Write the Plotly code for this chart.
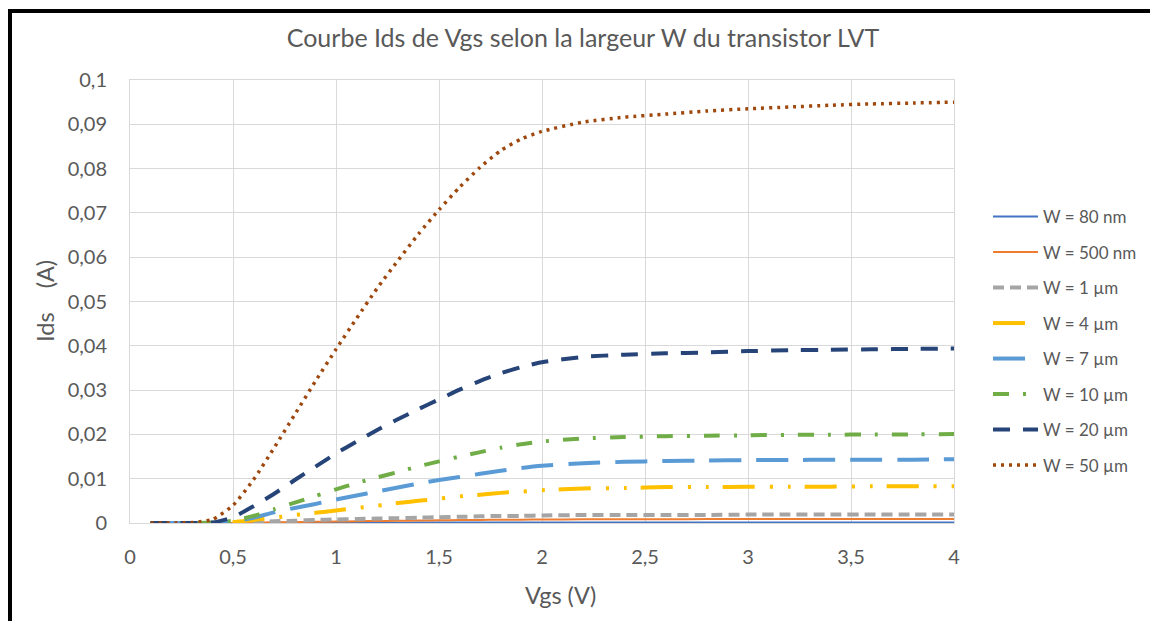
import plotly.graph_objects as go

vgs = [0.1, 0.2, 0.3, 0.4, 0.5, 0.6, 0.7, 0.8, 0.9, 1.0,
       1.1, 1.2, 1.3, 1.4, 1.5, 1.6, 1.7, 1.8, 1.9, 2.0,
       2.2, 2.4, 2.6, 2.8, 3.0, 3.2, 3.4, 3.6, 3.8, 4.0]

ids_80nm = [0, 0, 0, 0, 0, 0.00002, 0.00003, 0.00004, 0.00005, 0.00006,
            0.00007, 0.00008, 0.00008, 0.00009, 0.00009, 0.0001, 0.0001, 0.0001, 0.0001, 0.0001,
            0.0001, 0.0001, 0.0001, 0.0001, 0.0001, 0.0001, 0.0001, 0.0001, 0.0001, 0.0001]
ids_500nm = [0, 0, 0, 0, 0.00002, 0.0001, 0.00015, 0.0002, 0.00027, 0.00033,
             0.0004, 0.00045, 0.0005, 0.00055, 0.0006, 0.00065, 0.0007, 0.00073, 0.00076, 0.0008,
             0.00083, 0.00085, 0.00087, 0.00088, 0.00089, 0.0009, 0.0009, 0.0009, 0.0009, 0.0009]
ids_1um = [0, 0, 0, 0, 0.0001, 0.0002, 0.0004, 0.0005, 0.0007, 0.0008,
           0.0009, 0.001, 0.0011, 0.0012, 0.0013, 0.0014, 0.0015, 0.0016, 0.0016, 0.0017,
           0.0018, 0.0018, 0.0018, 0.0018, 0.0019, 0.0019, 0.0019, 0.0019, 0.0019, 0.0019]
ids_4um = [0, 0, 0, 0, 0.0002, 0.0007, 0.0012, 0.0018, 0.0023, 0.0028,
           0.0034, 0.0039, 0.0045, 0.005, 0.0055, 0.006, 0.0064, 0.0068, 0.0071, 0.0074,
           0.0078, 0.0079, 0.0081, 0.0081, 0.0082, 0.0082, 0.0082, 0.0083, 0.0083, 0.0083]
ids_7um = [0, 0, 0, 0, 0.0003, 0.0012, 0.0024, 0.0034, 0.0043, 0.0053,
           0.0062, 0.0071, 0.008, 0.0089, 0.0097, 0.0104, 0.0111, 0.0118, 0.0124, 0.0129,
           0.0135, 0.0138, 0.014, 0.0141, 0.0142, 0.0142, 0.0143, 0.0143, 0.0143, 0.0144]
ids_10um = [0, 0, 0, 0.0001, 0.0005, 0.0016, 0.0031, 0.0046, 0.0061, 0.0076,
            0.009, 0.0103, 0.0115, 0.0128, 0.0139, 0.015, 0.016, 0.017, 0.0178, 0.0184,
            0.0191, 0.0194, 0.0196, 0.0197, 0.0198, 0.0199, 0.0199, 0.02, 0.02, 0.0201]
ids_20um = [0, 0, 0, 0.0001, 0.0013, 0.0038, 0.0066, 0.0097, 0.0127, 0.0157,
            0.0184, 0.021, 0.0234, 0.0257, 0.0279, 0.0301, 0.0321, 0.0338, 0.0352, 0.0363,
            0.0375, 0.038, 0.0383, 0.0385, 0.0388, 0.039, 0.0391, 0.0392, 0.0393, 0.0394]
ids_50um = [0, 0, 0.0001, 0.0008, 0.004, 0.0098, 0.017, 0.0245, 0.032, 0.0392,
            0.0462, 0.053, 0.0592, 0.0652, 0.0707, 0.0758, 0.0803, 0.0841, 0.0867, 0.0884,
            0.0905, 0.0916, 0.0923, 0.093, 0.0935, 0.0939, 0.0943, 0.0946, 0.0948, 0.095]

names = ["W = 80 nm", "W = 500 nm", "W = 1 µm", "W = 4 µm",
         "W = 7 µm", "W = 10 µm", "W = 20 µm", "W = 50 µm"]
series = [ids_80nm, ids_500nm, ids_1um, ids_4um, ids_7um, ids_10um, ids_20um, ids_50um]
colors = ["#4472C4", "#ED7D31", "#A5A5A5", "#FFC000",
          "#5B9BD5", "#70AD47", "#264478", "#9E480E"]
widths = [2, 2, 4, 4, 4, 4, 4, 3.5]
dashes = ["solid", "solid", "11px,6px", "32px,15px,3px,15px,3px,14px",
          "32px,15px", "16px,14px,3px,14px", "17px,13px", "3px,5px"]

FONT = "Lato, 'Open Sans', sans-serif"
GREY = "#595959"

# the page body adds an 8px offset; all reference pixel positions are shifted by OFF
OFF = 8
W, H = 1158 - OFF, 621 - OFF
PL, PR, PT, PB = 130 - OFF, 954 - OFF, 80 - OFF, 523 - OFF  # plot area in figure px
PW, PH = PR - PL, PB - PT

def xp(px):
    return (px - OFF - PL) / PW

def yp(py):
    return 1 - (py - OFF - PT) / PH

fig = go.Figure()
for i, (nm, ys) in enumerate(zip(names, series)):
    fig.add_trace(go.Scatter(
        x=vgs, y=ys, name=nm, mode="lines", legendgroup=str(i),
        line=dict(color=colors[i], width=widths[i], dash=dashes[i], shape="spline", smoothing=0.6),
    ))

fig.update_layout(
    width=W, height=H,
    margin=dict(l=PL, r=W - PR, t=PT, b=H - PB),
    paper_bgcolor="white", plot_bgcolor="white",
    separators=", ",
    font=dict(family=FONT, color=GREY, size=18),
    title=dict(text="Courbe Ids de Vgs selon la largeur W du transistor LVT",
               x=(583 - OFF) / W, xanchor="center", y=1 - (38 - OFF) / H, yanchor="middle",
               font=dict(size=25, color=GREY, family=FONT)),
    legend=dict(x=xp(988), xanchor="left", y=yp(199), yanchor="top",
                font=dict(size=17, color=GREY, family=FONT),
                tracegroupgap=10.4, itemwidth=45, bgcolor="rgba(0,0,0,0)"),
    showlegend=True,
)
fig.update_xaxes(range=[0, 4], dtick=0.5, tick0=0, showgrid=True, gridcolor="#D9D9D9",
                 gridwidth=1, zeroline=False, showline=True, linecolor="#D9D9D9", mirror=True,
                 ticks="outside", ticklen=16, tickcolor="rgba(0,0,0,0)",
                 tickfont=dict(size=20, color=GREY, family=FONT))
fig.update_yaxes(range=[0, 0.1], dtick=0.01, tick0=0, showgrid=True, gridcolor="#D9D9D9",
                 gridwidth=1, zeroline=False, showline=True, linecolor="#D9D9D9", mirror=True,
                 ticks="outside", ticklen=18, tickcolor="rgba(0,0,0,0)",
                 tickfont=dict(size=20, color=GREY, family=FONT))

# axis titles
fig.add_annotation(text="Ids\u00a0\u00a0\u00a0\u00a0(A)", xref="paper", yref="paper",
                   x=xp(45), y=yp(301), xanchor="center", yanchor="middle",
                   textangle=-90, showarrow=False, font=dict(size=23.5, color=GREY, family=FONT))
fig.add_annotation(text="Vgs (V)", xref="paper", yref="paper",
                   x=xp(560), y=yp(595), xanchor="center", yanchor="middle",
                   showarrow=False, font=dict(size=23.5, color=GREY, family=FONT))

# frame lines (reference px, positioned relative to the plot area's top-left corner)
def pline(x0, y0, x1, y1, color, w):
    fig.add_shape(type="line", xref="paper", yref="paper", xanchor=0, yanchor=1,
                  xsizemode="pixel", ysizemode="pixel",
                  x0=x0 - OFF - PL, x1=x1 - OFF - PL, y0=PT - (y0 - OFF), y1=PT - (y1 - OFF),
                  line=dict(color=color, width=w), layer="above")

pline(8, 11, 1156, 11, "#000000", 4)
pline(10, 9, 10, 640, "#000000", 4)
pline(1156, 9, 1156, 640, "#A6A6A6", 1)

fig.write_html("out.html")
